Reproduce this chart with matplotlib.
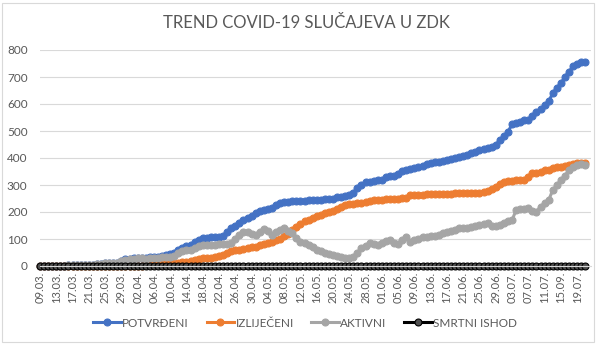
import matplotlib
matplotlib.use("Agg")
import matplotlib.pyplot as plt
from matplotlib.patches import Rectangle
import numpy as np

# ------------------------------------------------------------
# data, one value per day 09.03. - 21.07.
# ------------------------------------------------------------

potvrdeni = [
  0, 0, 0, 0, 0, 0, 0,
  2, 2, 3, 3, 3, 4, 4,
  8, 9, 10, 10, 11, 12,
  20, 26, 27, 28, 29, 30, 31,
  32, 33, 35, 38, 41, 44, 47,
  60, 68, 74, 78, 88, 98, 104,
  105, 106, 107, 108, 110, 125, 140,
  150, 160, 170, 178, 185, 198, 205,
  208, 212, 215, 225, 232, 236, 238,
  240, 240, 241, 242, 243, 244, 245,
  246, 247, 248, 250, 255, 257, 258,
  262, 270, 290, 300, 310, 312, 315,
  318, 320, 328, 332, 333, 340, 353,
  356, 360, 363, 366, 370, 376, 381,
  384, 387, 390, 393, 396, 400, 405,
  406, 410, 418, 424, 430, 434, 438,
  442, 450, 465, 480, 497, 525, 530,
  535, 540, 542, 555, 570, 580, 596,
  610, 640, 660, 677, 700, 720, 740,
  750, 755, 757]

izlijeceni = [
  0, 0, 0, 0, 0, 0, 0, 0, 0, 0, 0, 0, 0,
  0, 0, 0, 0, 0, 0, 0, 0, 0, 0, 0, 0, 0,
  2, 3, 5, 6, 8, 8, 10, 10,
  12, 14, 15, 17, 22, 26, 28,
  29, 30, 33, 36, 41, 48, 55,
  58, 60, 62, 66, 70, 72, 76,
  80, 85, 90, 95, 100, 110, 120,
  132, 146, 155, 165, 170, 178, 185,
  190, 195, 200, 205, 212, 220, 226,
  228, 230, 232, 234, 236, 240, 244,
  245, 246, 247, 248, 249, 250, 251,
  251, 262, 263, 264, 264, 265, 266,
  266, 267, 267, 268, 268, 269, 269,
  269, 269, 270, 270, 272, 275, 278,
  285, 294, 305, 312, 315, 316, 317,
  318, 318, 330, 343, 345, 350, 355,
  356, 362, 365, 368, 372, 374, 378,
  380, 380, 380]

aktivni = [
  0, 0, 0, 0, 0, 0, 0,
  2, 2, 3, 3, 3, 4, 4,
  8, 9, 10, 10, 11, 12,
  20, 24, 26, 27, 28, 28,
  27, 28, 28, 30, 32, 34, 35, 38,
  48, 56, 60, 61, 68, 74, 78,
  78, 78, 79, 80, 80, 82, 86,
  100, 115, 127, 125, 118, 115, 125,
  136, 128, 115, 125, 132, 140, 130,
  121, 105, 90, 85, 78, 70, 60,
  55, 50, 45, 41, 38, 33, 29,
  30, 35, 50, 66, 75, 84, 80,
  78, 85, 92, 96, 86, 83, 95,
  109, 90, 95, 100, 109, 108, 110,
  112, 116, 121, 125, 128, 132, 139,
  140, 142, 146, 150, 152, 156, 158,
  150, 148, 153, 158, 165, 170, 207,
  210, 212, 213, 205, 201, 220, 232,
  244, 281, 300, 318, 335, 356, 365,
  374, 376, 375]

smrtni = [0] * 135

tick_labels = ["09.03.", "13.03.", "17.03.", "21.03.", "25.03.", "29.03.",
               "02.04.", "06.04.", "10.04.", "14.04.", "18.04.", "22.04.",
               "26.04.", "30.04.", "04.05.", "08.05.", "12.05.", "16.05.",
               "20.05.", "24.05.", "28.05.", "01.06.", "05.06.", "09.06.",
               "13.06.", "17.06.", "21.06.", "25.06.", "29.06.", "03.07.",
               "07.07.", "11.07.", "15.09.", "19.07."]

# ------------------------------------------------------------

plt.rcParams['font.family'] = ['Lato', 'DejaVu Sans']
txt = '#595959'

fig = plt.figure(figsize=(6.07, 3.44), dpi=100)
fig.patches.append(Rectangle((2/607, 2/344), 592/607, 339/344, transform=fig.transFigure,
                             fill=False, edgecolor='#d9d9d9', linewidth=0.8))
ax = fig.add_axes([40/607, 1 - 266/344, 551/607, 216/344])

days = np.arange(len(potvrdeni))
series = [
  (potvrdeni, 'POTVRĐENI', '#4472C4', '#4472C4', '#4472C4'),
  (izlijeceni, 'IZLIJEČENI', '#ED7D31', '#ED7D31', '#ED7D31'),
  (aktivni, 'AKTIVNI', '#A5A5A5', '#A5A5A5', '#A5A5A5'),
  (smrtni, 'SMRTNI ISHOD', '#000000', '#505050', '#000000'),
]
for vals, name, col, mfc, mec in series:
  ax.plot(days, vals, '-o', color=col, lw=2.2, ms=5, mfc=mfc, mec=mec, mew=0.8,
          label=name, clip_on=False)

ax.set_xlim(0, 135.4)
ax.set_ylim(0, 800)
ax.set_yticks(np.arange(0, 801, 100))
ax.set_xticks(np.arange(0, 4 * len(tick_labels), 4))
ax.set_xticklabels(tick_labels, rotation=90)
ax.yaxis.grid(color='#d9d9d9', lw=0.8)
ax.set_axisbelow(True)
for s in ['top', 'right', 'left']:
  ax.spines[s].set_visible(False)
ax.spines['bottom'].set_color('#d9d9d9')
ax.tick_params(axis='y', length=0, labelsize=8.5, labelcolor=txt, pad=9)
ax.tick_params(axis='x', length=0, labelsize=8, labelcolor=txt, pad=4)

fig.text(0.505, 0.934, 'TREND COVID-19 SLUČAJEVA U ZDK', ha='center', va='center',
         fontsize=12, color=txt)
fig.legend(loc='center', bbox_to_anchor=(0.503, 0.061), ncol=4, frameon=False,
           fontsize=8.5, labelcolor=txt, handlelength=2.3, columnspacing=1.5,
           handletextpad=0.15, borderaxespad=0)

fig.savefig('out.png', dpi=100)
